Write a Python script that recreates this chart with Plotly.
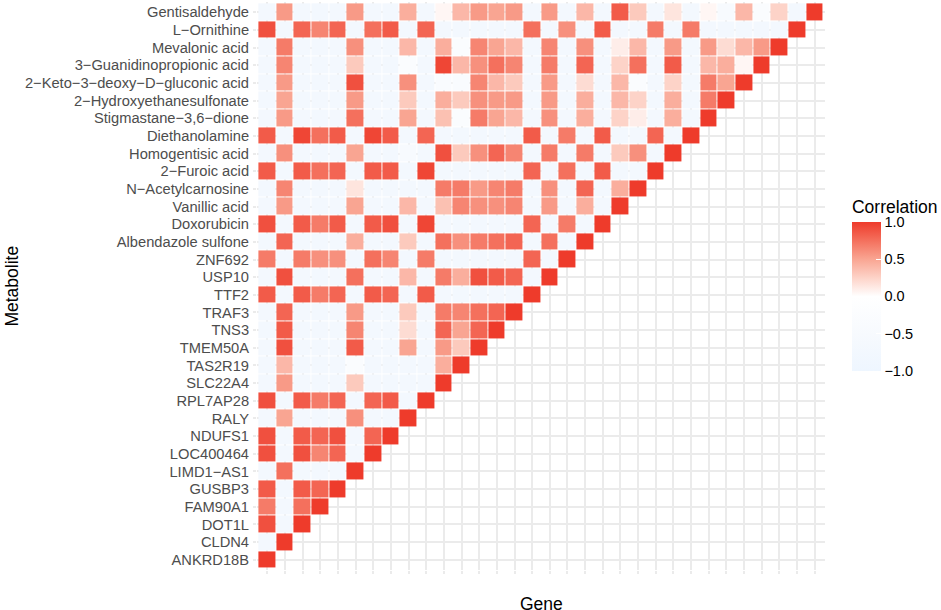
import plotly.graph_objects as go

# Variables in plotting order: bottom to top on y, left to right on x
labels = [
    "ANKRD18B", "CLDN4", "DOT1L", "FAM90A1", "GUSBP3", "LIMD1\u2212AS1",
    "LOC400464", "NDUFS1", "RALY", "RPL7AP28", "SLC22A4", "TAS2R19",
    "TMEM50A", "TNS3", "TRAF3", "TTF2", "USP10", "ZNF692",
    "Albendazole sulfone", "Doxorubicin", "Vanillic acid",
    "N\u2212Acetylcarnosine", "2\u2212Furoic acid", "Homogentisic acid",
    "Diethanolamine", "Stigmastane\u22123,6\u2212dione",
    "2\u2212Hydroxyethanesulfonate", "2\u2212Keto\u22123\u2212deoxy\u2212D\u2212gluconic acid",
    "3\u2212Guanidinopropionic acid", "Mevalonic acid", "L\u2212Ornithine",
    "Gentisaldehyde",
]

# lower triangle of the correlation matrix, one list per row (bottom row first)
corr_rows = [
    [1],
    [-0.7, 1],
    [0.9, -0.7, 1],
    [0.7, -0.7, 0.75, 1],
    [0.85, -0.7, 0.85, 0.8, 1],
    [-0.7, 0.75, -0.7, -0.7, -0.7, 1],
    [0.9, -0.7, 0.9, 0.65, 0.8, -0.7, 1],
    [0.9, -0.7, 0.85, 0.8, 0.9, -0.7, 0.8, 1],
    [-0.7, 0.5, -0.7, -0.7, -0.7, 0.6, -0.7, -0.7, 1],
    [0.9, -0.7, 0.85, 0.7, 0.8, -0.7, 0.8, 0.85, -0.7, 1],
    [-0.7, 0.55, -0.7, -0.7, -0.7, 0.3, -0.7, -0.7, -0.7, -0.7, 1],
    [-0.7, 0.4, -0.7, -0.7, -0.7, -0.3, -0.7, -0.7, -0.7, -0.7, 0.45, 1],
    [-0.7, 0.9, -0.7, -0.7, -0.7, 0.85, -0.7, -0.7, 0.5, -0.7, 0.55, 0.3, 1],
    [-0.7, 0.85, -0.7, -0.7, -0.7, 0.65, -0.7, -0.7, 0.2, -0.7, 0.8, 0.5, 0.8, 1],
    [-0.7, 0.8, -0.7, -0.7, -0.7, 0.55, -0.7, -0.7, 0.3, -0.7, 0.7, 0.65, 0.75, 0.8, 1],
    [0.85, -0.7, 0.85, 0.7, 0.8, -0.7, 0.85, 0.8, -0.7, 0.85, -0.7, -0.7, -0.7, -0.7, -0.7, 1],
    [-0.7, 0.9, -0.7, -0.7, -0.7, 0.75, -0.7, -0.7, 0.4, -0.7, 0.7, 0.45, 0.9, 0.85, 0.8, -0.7, 1],
    [0.7, -0.7, 0.7, 0.6, 0.6, -0.7, 0.75, 0.65, -0.7, 0.7, -0.7, -0.7, -0.7, -0.7, -0.7, 0.8, -0.7, 1],
    [-0.7, 0.8, -0.7, -0.7, -0.7, 0.45, -0.7, -0.7, 0.3, -0.7, 0.75, 0.6, 0.7, 0.75, 0.8, -0.7, 0.75,
     -0.7, 1],
    [0.9, -0.7, 0.85, 0.7, 0.85, -0.7, 0.85, 0.9, -0.7, 0.95, -0.7, -0.7, -0.7, -0.7, -0.7, 0.8, -0.7,
     0.7, -0.7, 1],
    [-0.7, 0.55, -0.7, -0.7, -0.7, 0.5, -0.7, -0.7, 0.4, -0.7, 0.35, 0.65, 0.6, 0.6, 0.65, -0.7, 0.55,
     -0.7, 0.45, -0.7, 1],
    [-0.7, 0.65, -0.7, -0.7, -0.7, 0.15, -0.7, -0.7, -0.7, -0.7, 0.7, 0.7, 0.55, 0.65, 0.7, -0.7, 0.6,
     -0.7, 0.8, -0.7, 0.45, 1],
    [0.85, -0.7, 0.85, 0.75, 0.8, -0.7, 0.85, 0.85, -0.7, 0.95, -0.7, -0.7, -0.7, -0.7, -0.7, 0.8, -0.7,
     0.75, -0.7, 0.85, -0.7, -0.7, 1],
    [-0.7, 0.6, -0.7, -0.7, -0.7, 0.5, -0.7, -0.7, -0.5, -0.7, 0.9, 0.3, 0.6, 0.8, 0.65, -0.7, 0.7,
     -0.7, 0.7, -0.7, 0.3, 0.6, -0.7, 1],
    [0.85, -0.7, 0.95, 0.75, 0.85, -0.7, 0.95, 0.85, -0.7, 0.8, -0.7, -0.7, -0.7, -0.7, -0.7, 0.85, -0.7,
     0.7, -0.7, 0.85, -0.7, -0.7, 0.8, -0.7, 1],
    [-0.7, 0.55, -0.7, -0.7, -0.7, 0.75, -0.7, -0.7, 0.5, -0.7, 0.35, -0.3, 0.7, 0.5, 0.4, -0.7, 0.6,
     -0.7, 0.45, -0.7, 0.25, 0.1, -0.7, 0.45, -0.7, 1],
    [-0.7, 0.5, -0.7, -0.7, -0.7, 0.55, -0.7, -0.7, 0.3, -0.7, 0.45, 0.3, 0.6, 0.55, 0.55, -0.7, 0.55,
     -0.7, 0.45, -0.7, 0.4, 0.25, -0.7, 0.45, -0.7, 0.7, 1],
    [-0.7, 0.55, -0.7, -0.7, -0.7, 0.9, -0.7, -0.7, 0.6, -0.7, -0.4, -0.4, 0.65, 0.4, 0.3, -0.7, 0.55,
     -0.7, 0.2, -0.7, 0.4, -0.3, -0.7, 0.25, -0.7, 0.7, 0.5, 1],
    [-0.7, 0.65, -0.7, -0.7, -0.7, 0.3, -0.7, -0.7, -0.3, -0.7, 0.95, 0.4, 0.6, 0.75, 0.65, -0.7, 0.7,
     -0.7, 0.8, -0.7, 0.25, 0.75, -0.7, 0.85, -0.7, 0.4, 0.45, 0.05, 1],
    [-0.7, 0.7, -0.7, -0.7, -0.7, 0.6, -0.7, -0.7, 0.4, -0.7, 0.45, -0.3, 0.65, 0.5, 0.4, -0.7, 0.65,
     -0.7, 0.6, -0.7, 0.1, 0.4, -0.7, 0.55, -0.7, 0.55, 0.2, 0.4, 0.55, 1],
    [0.9, -0.7, 0.8, 0.65, 0.8, -0.7, 0.75, 0.85, -0.7, 0.8, -0.7, -0.7, -0.7, -0.7, -0.7, 0.75, -0.7,
     0.6, -0.7, 0.85, -0.7, -0.7, 0.7, -0.7, 0.7, -0.7, -0.7, -0.7, -0.7, -0.7, 1],
    [-0.7, 0.55, -0.7, -0.7, -0.7, 0.55, -0.7, -0.7, 0.45, -0.7, 0.05, 0.4, 0.55, 0.5, 0.55, -0.7, 0.55,
     -0.7, 0.4, -0.7, 0.85, 0.3, -0.7, 0.15, -0.7, 0.05, -0.5, 0.4, -0.3, 0.25, -0.7, 1],
]

legend_ticks = [-1, -0.5, 0, 0.5, 1]
legend_labels = ["\u22121.0", "\u22120.5", "0.0", "0.5", "1.0"]

n = len(labels)
z = [row + [None] * (n - len(row)) for row in corr_rows]

# white -> red for positive, very pale blue for negative
colorscale = [
    [0.0, "#EEF6FF"], [0.25, "#F7FAFE"], [0.5, "#FFFFFF"],
    [0.625, "#FDD3C8"], [0.75, "#F9A592"], [0.875, "#F4705D"], [1.0, "#EE3B2B"],
]

fig = go.Figure(go.Heatmap(
    z=z, x=labels, y=labels, zmin=-1, zmax=1, colorscale=colorscale,
    xgap=1, ygap=1, hoverongaps=False,
    colorbar=dict(
        title=dict(text="Correlation", side="top", font=dict(size=17.5, color="black")),
        thickness=29, thicknessmode="pixels", len=174, lenmode="pixels",
        x=1.0475, xanchor="left", y=0.3506, yanchor="bottom", xpad=0, ypad=0,
        tickvals=legend_ticks, ticktext=legend_labels,
        ticks="inside", ticklen=5, tickcolor="white", tickwidth=1,
        tickfont=dict(size=14.5, color="black"), outlinewidth=0,
    ),
))

grid = "#EBEBEB"
fig.update_xaxes(
    range=[-0.58, n - 0.42], showgrid=True, gridcolor=grid, gridwidth=1.6,
    showticklabels=False, ticks="outside", ticklen=3, tickcolor=grid, tickwidth=1.6,
    tickmode="linear", tick0=0, dtick=1, zeroline=False, showline=False,
)
fig.update_yaxes(
    range=[-0.58, n - 0.42], showgrid=True, gridcolor=grid, gridwidth=1.6,
    ticks="outside", ticklen=3, tickcolor=grid, tickwidth=1.6, ticklabelstandoff=1,
    tickmode="linear", tick0=0, dtick=1,
    tickfont=dict(size=14.7, color="#4D4D4D"), zeroline=False, showline=False,
    automargin=False,
)

fig.update_layout(
    width=941, height=610,
    margin=dict(l=256.5, r=116, t=1.5, b=39.5),
    plot_bgcolor="white", paper_bgcolor="white",
    font=dict(family="Liberation Sans, Arial, Helvetica, sans-serif", color="black"),
    annotations=[
        dict(text="Gene", xref="paper", yref="paper", x=0.5, y=-0.059,
             xanchor="center", yanchor="middle", showarrow=False, font=dict(size=17.5)),
        dict(text="Metabolite", xref="paper", yref="paper", x=-0.432, y=0.5,
             xanchor="center", yanchor="middle", textangle=-90, showarrow=False,
             font=dict(size=17.5)),
    ],
)

# drop the browser's default 8px body margin so the figure sits at the page corner
fig.write_html("out.html", config={"displayModeBar": False},
               post_script="document.body.style.margin = '0';")
